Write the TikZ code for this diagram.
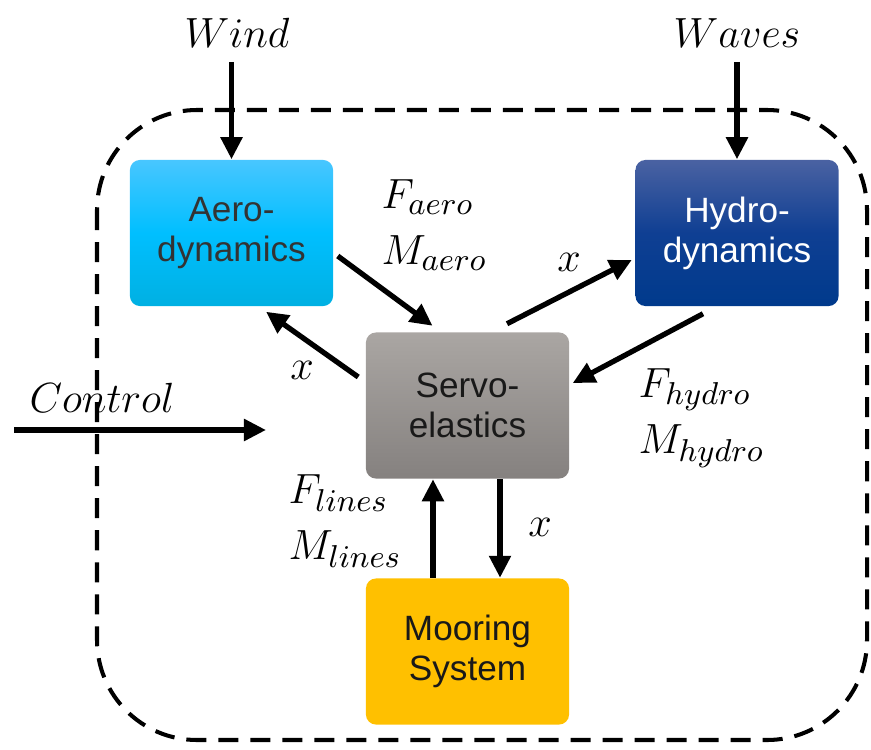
\documentclass[tikz,border=0pt]{standalone}
\usepackage{fontspec}
\setmainfont{Liberation Sans}
\usetikzlibrary{arrows.meta}

\definecolor{aerotop}{HTML}{48C6FF}
\definecolor{aeromid}{HTML}{00BFFF}
\definecolor{aerobot}{HTML}{00B0E2}
\definecolor{hydrotop}{HTML}{4A62A2}
\definecolor{hydromid}{HTML}{0F3F93}
\definecolor{hydrobot}{HTML}{003A8C}
\definecolor{servotop}{HTML}{AAA6A3}
\definecolor{servobot}{HTML}{85817F}
\definecolor{mooring}{HTML}{FFC000}

\begin{document}
\begin{tikzpicture}[x=0.01cm, y=-0.01cm,
    block/.style={rounded corners=0.1cm, minimum width=2.03cm, minimum height=1.46cm,
        inner sep=0pt, align=center, font=\fontsize{10}{11.4}\selectfont},
    flow/.style={line width=1.5pt, -{Triangle[length=0.22cm, width=0.21cm]}},
    lbl/.style={font=\fontsize{12.5}{16}\selectfont, align=left, inner sep=0pt}]
    \useasboundingbox (0, 0) rectangle (871, 749);

    % system boundary
    \draw[line width=1.15pt, dash pattern=on 0.2cm off 0.12cm, rounded corners=1cm] (97, 110) rectangle (867, 740);

    \node[block, top color=aerotop, bottom color=aerobot, middle color=aeromid, text=black!80] (aero) at (231.5, 233) {Aero-\\dynamics};
    \node[block, top color=hydrotop, bottom color=hydrobot, middle color=hydromid, text=white] (hydro) at (737, 233) {Hydro-\\dynamics};
    \node[block, top color=servotop, bottom color=servobot, text=black!90] (servo) at (467.5, 405.5) {Servo-\\elastics};
    \node[block, fill=mooring, text=black!90] (moor) at (467.5, 651.5) {Mooring\\System};

    \node[lbl] (wind) at (237, 33) {$Wind$};
    \node[lbl] (waves) at (737, 33) {$Waves$};
    \node[lbl] (control) at (102, 398) {$Control$};
    \coordinate (windtop) at (231.5, 62);
    \coordinate (wavestop) at (737, 62);
    \coordinate (ctlstart) at (14, 430);
    \coordinate (ctlend) at (266, 430);

    \draw[flow] (windtop) -- (aero.north);
    \draw[flow] (wavestop) -- (hydro.north);
    \draw[flow] (ctlstart) -- (ctlend);

    \draw[flow] ([shift={(4, 23)}]aero.east) -- ([shift={(-35, -6)}]servo.north);
    \draw[flow] ([shift={(-7, -28.5)}]servo.west) -- ([shift={(34.5, 5)}]aero.south);
    \draw[flow] ([shift={(39.5, -8)}]servo.north) -- ([shift={(-3, 27)}]hydro.west);
    \draw[flow] ([shift={(-34, 7)}]hydro.south) -- ([shift={(3, -22.5)}]servo.east);
    \draw[flow] ([xshift=-0.345cm]moor.north) -- ([xshift=-0.345cm]servo.south);
    \draw[flow] ([xshift=0.325cm]servo.south) -- ([xshift=0.325cm]moor.north);

    \node[lbl, anchor=west] (faero) at (381, 225) {$F_{aero}$\\$M_{aero}$};
    \node[lbl, anchor=west] (fhydro) at (638, 418) {$F_{hydro}$\\$M_{hydro}$};
    \node[lbl, anchor=west] (flines) at (288, 521) {$F_{lines}$\\$M_{lines}$};
    \node[lbl] (xaero) at (302, 370) {$x$};
    \node[lbl] (xhydro) at (569, 262) {$x$};
    \node[lbl] (xmoor) at (540, 527) {$x$};
\end{tikzpicture}
\end{document}
